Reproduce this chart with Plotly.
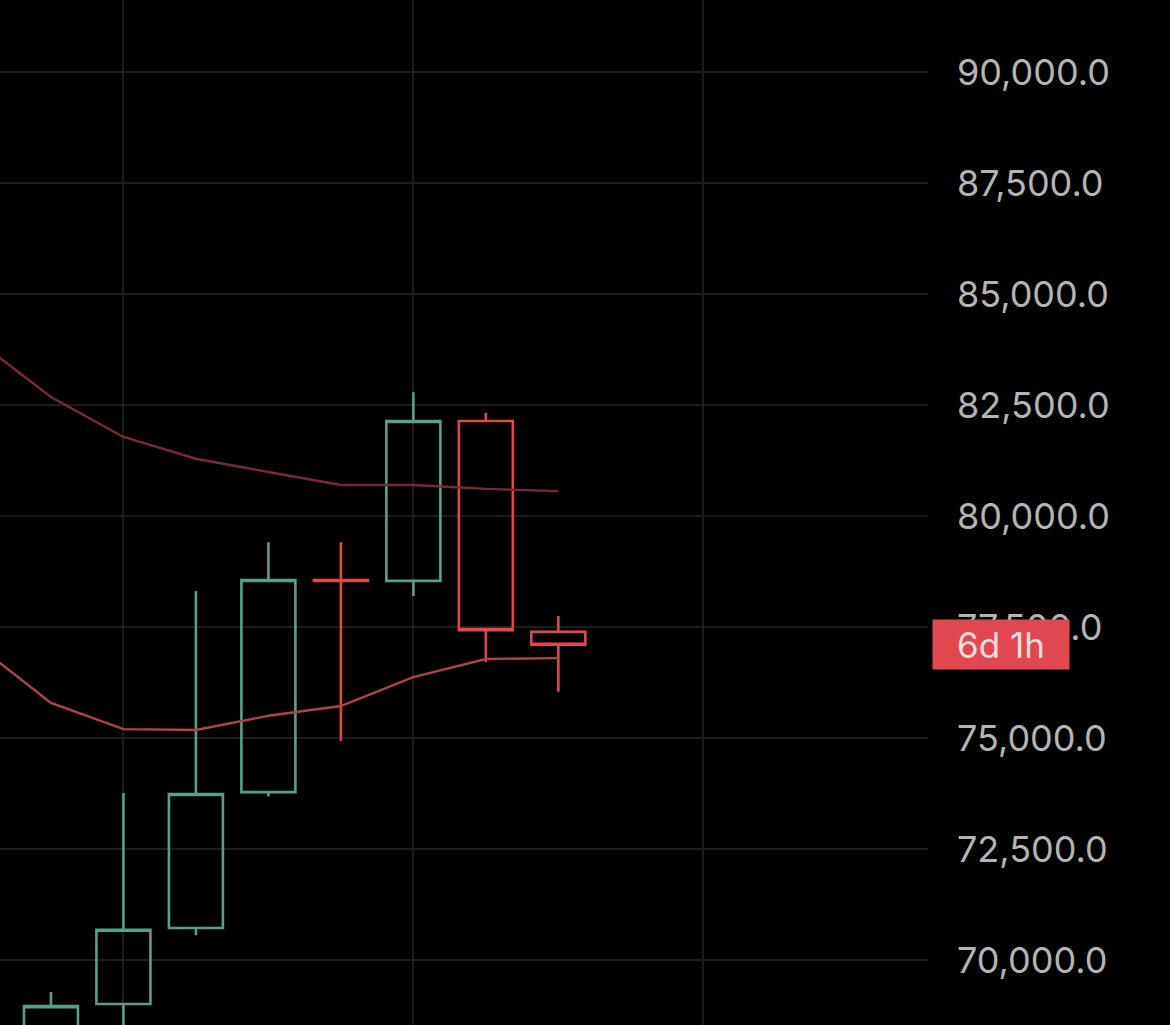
import plotly.graph_objects as go

# candles (index 0..7)
candle_idx = [0, 1, 2, 3, 4, 5, 6, 7]
opens = [68300, 69010, 70720, 73780, 78560, 78540, 82140, 77390]
highs = [69280, 73760, 78310, 79410, 79410, 82790, 82320, 77750]
lows = [68000, 68200, 70560, 73690, 74930, 78200, 76710, 76040]
closes = [68960, 70680, 73740, 78560, 78540, 82140, 77430, 77100]

# moving averages (one point before the first visible candle)
ma_idx = [-1, 0, 1, 2, 3, 4, 5, 6, 7]
ma_slow = [83930, 82680, 81780, 81290, 80990, 80700, 80700, 80610, 80560]
ma_fast = [77070, 75790, 75200, 75180, 75500, 75720, 76370, 76780, 76800]

y_ticks = [70000, 72500, 75000, 77500, 80000, 82500, 85000, 87500, 90000]
countdown = "6d 1h"

GREEN = "#5a9f88"
RED = "#e0474f"
FONT = "Inter, Roboto, sans-serif"

fig = go.Figure()

fig.add_trace(go.Scatter(x=ma_idx, y=ma_slow, mode="lines",
                         line=dict(color="#7a2a33", width=2.4), hoverinfo="skip"))
fig.add_trace(go.Scatter(x=ma_idx, y=ma_fast, mode="lines",
                         line=dict(color="#b0424a", width=2.4), hoverinfo="skip"))

fig.add_trace(go.Candlestick(
    x=candle_idx, open=opens, high=highs, low=lows, close=closes,
    increasing=dict(line=dict(color=GREEN, width=2.6), fillcolor="rgba(0,0,0,0)"),
    decreasing=dict(line=dict(color=RED, width=2.6), fillcolor="rgba(0,0,0,0)"),
    whiskerwidth=0,
))

# countdown tag sitting on the last close
fig.add_annotation(
    text=countdown, xref="paper", yref="y", x=1.0043, y=closes[-1],
    xanchor="left", yanchor="middle", showarrow=False,
    bgcolor=RED, width=136, height=49, borderpad=0, align="center",
    font=dict(family=FONT, size=35, color="#f9dcdc"),
)

fig.update_layout(
    width=1170, height=1025,
    margin=dict(l=0, r=242, t=0, b=0),
    paper_bgcolor="#000000", plot_bgcolor="#000000",
    showlegend=False,
    boxgap=0.255, boxgroupgap=0,
    xaxis=dict(range=[-0.703, 12.1], tickvals=[1, 5, 9], showticklabels=False,
               showgrid=True, gridcolor="#1c1c1c", gridwidth=2, zeroline=False,
               rangeslider=dict(visible=False), fixedrange=True),
    yaxis=dict(range=[68536, 91622], side="right", tickvals=y_ticks,
               ticktext=[f"{v:,.1f}" for v in y_ticks],
               showgrid=True, gridcolor="#1c1c1c", gridwidth=2, zeroline=False,
               ticklabelstandoff=28,
               tickfont=dict(family=FONT, size=36, color="#b4b4b4")),
)

fig.write_html("out.html", config={"displayModeBar": False},
               post_script="document.body.style.margin='0';")
